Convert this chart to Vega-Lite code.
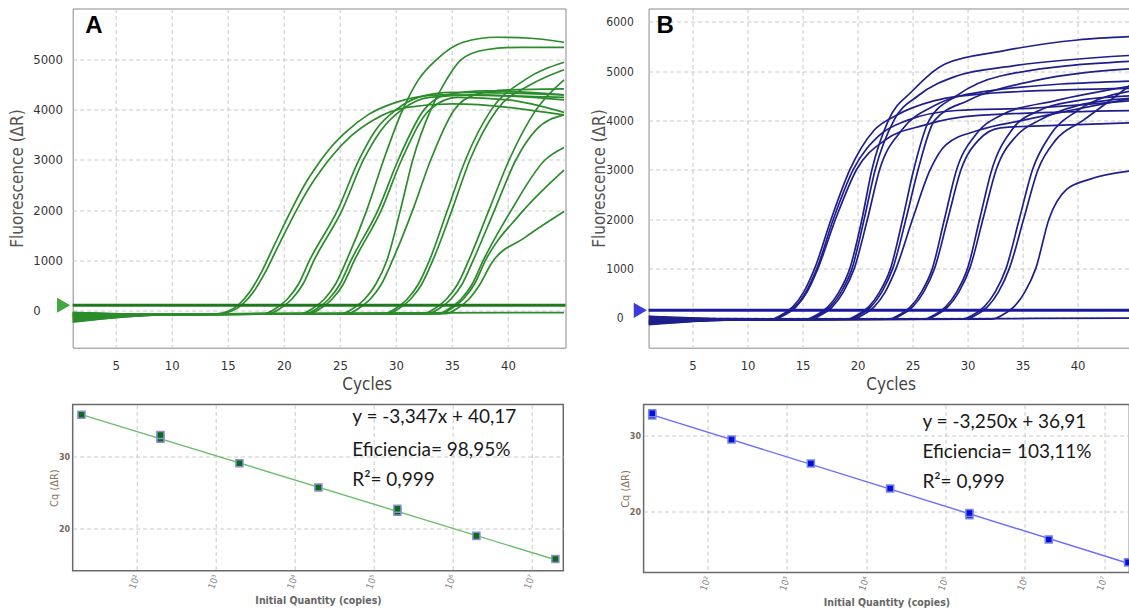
{
"$schema":"https://vega.github.io/schema/vega-lite/v6.json",
"background":"white",
"padding":{"left":7.7,"top":7.5,"right":0,"bottom":0},
"bounds":"full",
"spacing":10,
"config":{"view":{"stroke":"#7a7a7a","strokeWidth":1},"axis":{"ticks":false,"domain":false,"grid":true,"gridDash":[4,3],"gridColor":"#c9c9c9","gridWidth":1}},
"datasets":{
"ampA":[
{"s":"a1","x":1,"y":-160},{"s":"a1","x":9,"y":-85},{"s":"a1","x":14,"y":-70},{"s":"a1","x":15,"y":-20},{"s":"a1","x":16,"y":120},{"s":"a1","x":17,"y":380},{"s":"a1","x":18,"y":760},{"s":"a1","x":19,"y":1230},{"s":"a1","x":20,"y":1700},{"s":"a1","x":21,"y":2150},{"s":"a1","x":22,"y":2560},{"s":"a1","x":23,"y":2900},{"s":"a1","x":24,"y":3200},{"s":"a1","x":25.5,"y":3550},{"s":"a1","x":27.5,"y":3900},{"s":"a1","x":30,"y":4150},{"s":"a1","x":34,"y":4300},{"s":"a1","x":45,"y":4250},
{"s":"a2","x":1,"y":-220},{"s":"a2","x":9,"y":-90},{"s":"a2","x":14.3,"y":-70},{"s":"a2","x":15.3,"y":-20},{"s":"a2","x":16.3,"y":120},{"s":"a2","x":17.3,"y":370},{"s":"a2","x":18.3,"y":740},{"s":"a2","x":19.3,"y":1190},{"s":"a2","x":20.3,"y":1640},{"s":"a2","x":21.3,"y":2070},{"s":"a2","x":22.3,"y":2460},{"s":"a2","x":23.3,"y":2790},{"s":"a2","x":24.3,"y":3080},{"s":"a2","x":26,"y":3480},{"s":"a2","x":28,"y":3800},{"s":"a2","x":31,"y":4050},{"s":"a2","x":35,"y":4120},{"s":"a2","x":45,"y":3900},
{"s":"a3","x":1,"y":-120},{"s":"a3","x":9,"y":-85},{"s":"a3","x":18.3,"y":-65},{"s":"a3","x":19.3,"y":40},{"s":"a3","x":20.3,"y":220},{"s":"a3","x":21.3,"y":520},{"s":"a3","x":22.3,"y":1000},{"s":"a3","x":24.8,"y":2000},{"s":"a3","x":26.7,"y":3000},{"s":"a3","x":28.2,"y":3600},{"s":"a3","x":30,"y":4000},{"s":"a3","x":32,"y":4250},{"s":"a3","x":35,"y":4350},{"s":"a3","x":45,"y":4300},
{"s":"a4","x":1,"y":-60},{"s":"a4","x":9,"y":-80},{"s":"a4","x":18.7,"y":-65},{"s":"a4","x":19.7,"y":40},{"s":"a4","x":20.7,"y":220},{"s":"a4","x":21.7,"y":520},{"s":"a4","x":22.7,"y":1000},{"s":"a4","x":25.2,"y":2000},{"s":"a4","x":27.1,"y":3000},{"s":"a4","x":28.7,"y":3600},{"s":"a4","x":30.5,"y":4000},{"s":"a4","x":33,"y":4250},{"s":"a4","x":37,"y":4300},{"s":"a4","x":45,"y":4200},
{"s":"a5","x":1,"y":-200},{"s":"a5","x":9,"y":-90},{"s":"a5","x":21.6,"y":-65},{"s":"a5","x":22.6,"y":40},{"s":"a5","x":23.6,"y":220},{"s":"a5","x":24.6,"y":520},{"s":"a5","x":25.6,"y":1000},{"s":"a5","x":27.4,"y":2000},{"s":"a5","x":28.9,"y":3000},{"s":"a5","x":30.6,"y":4000},{"s":"a5","x":32,"y":4600},{"s":"a5","x":33.6,"y":5000},{"s":"a5","x":36,"y":5350},{"s":"a5","x":39,"y":5450},{"s":"a5","x":42,"y":5430},{"s":"a5","x":45,"y":5350},
{"s":"a6","x":1,"y":-100},{"s":"a6","x":9,"y":-85},{"s":"a6","x":22,"y":-65},{"s":"a6","x":23,"y":40},{"s":"a6","x":24,"y":220},{"s":"a6","x":25,"y":520},{"s":"a6","x":26,"y":1000},{"s":"a6","x":28.4,"y":2000},{"s":"a6","x":30.2,"y":3000},{"s":"a6","x":32.5,"y":4000},{"s":"a6","x":34.5,"y":4300},{"s":"a6","x":38,"y":4380},{"s":"a6","x":45,"y":4300},
{"s":"a7","x":1,"y":-40},{"s":"a7","x":9,"y":-80},{"s":"a7","x":22.3,"y":-65},{"s":"a7","x":23.3,"y":40},{"s":"a7","x":24.3,"y":220},{"s":"a7","x":25.3,"y":520},{"s":"a7","x":26.3,"y":1000},{"s":"a7","x":28.7,"y":2000},{"s":"a7","x":30.5,"y":3000},{"s":"a7","x":33,"y":4000},{"s":"a7","x":35.5,"y":4250},{"s":"a7","x":40,"y":4200},{"s":"a7","x":45,"y":3950},
{"s":"a8","x":1,"y":-180},{"s":"a8","x":9,"y":-85},{"s":"a8","x":25.2,"y":-65},{"s":"a8","x":26.2,"y":40},{"s":"a8","x":27.2,"y":220},{"s":"a8","x":28.2,"y":520},{"s":"a8","x":29.2,"y":1000},{"s":"a8","x":30.4,"y":2000},{"s":"a8","x":31.5,"y":3000},{"s":"a8","x":33.1,"y":4000},{"s":"a8","x":34.5,"y":4600},{"s":"a8","x":35.8,"y":5000},{"s":"a8","x":38,"y":5200},{"s":"a8","x":41,"y":5250},{"s":"a8","x":45,"y":5250},
{"s":"a9","x":1,"y":-140},{"s":"a9","x":9,"y":-85},{"s":"a9","x":25.7,"y":-65},{"s":"a9","x":26.7,"y":40},{"s":"a9","x":27.7,"y":220},{"s":"a9","x":28.7,"y":520},{"s":"a9","x":29.7,"y":1000},{"s":"a9","x":31.5,"y":2000},{"s":"a9","x":33.1,"y":3000},{"s":"a9","x":35.2,"y":4000},{"s":"a9","x":37,"y":4300},{"s":"a9","x":40,"y":4400},{"s":"a9","x":45,"y":4420},
{"s":"a10","x":1,"y":-90},{"s":"a10","x":9,"y":-85},{"s":"a10","x":29,"y":-65},{"s":"a10","x":30,"y":40},{"s":"a10","x":31,"y":220},{"s":"a10","x":32,"y":520},{"s":"a10","x":33,"y":1000},{"s":"a10","x":34.6,"y":2000},{"s":"a10","x":36.2,"y":3000},{"s":"a10","x":38.5,"y":4000},{"s":"a10","x":41.5,"y":4600},{"s":"a10","x":45,"y":4950},
{"s":"a11","x":1,"y":-240},{"s":"a11","x":9,"y":-90},{"s":"a11","x":29.3,"y":-65},{"s":"a11","x":30.3,"y":40},{"s":"a11","x":31.3,"y":220},{"s":"a11","x":32.3,"y":520},{"s":"a11","x":33.3,"y":1000},{"s":"a11","x":35,"y":2000},{"s":"a11","x":36.6,"y":3000},{"s":"a11","x":39,"y":4000},{"s":"a11","x":42,"y":4500},{"s":"a11","x":45,"y":4800},
{"s":"a12","x":1,"y":-70},{"s":"a12","x":9,"y":-80},{"s":"a12","x":32.5,"y":-65},{"s":"a12","x":33.5,"y":40},{"s":"a12","x":34.5,"y":220},{"s":"a12","x":35.5,"y":520},{"s":"a12","x":36.5,"y":1000},{"s":"a12","x":38.3,"y":2000},{"s":"a12","x":40.1,"y":3000},{"s":"a12","x":42.5,"y":4000},{"s":"a12","x":45,"y":4600},
{"s":"a13","x":1,"y":-130},{"s":"a13","x":9,"y":-85},{"s":"a13","x":32.9,"y":-65},{"s":"a13","x":33.9,"y":40},{"s":"a13","x":34.9,"y":220},{"s":"a13","x":35.9,"y":520},{"s":"a13","x":36.9,"y":1000},{"s":"a13","x":38.8,"y":2000},{"s":"a13","x":40.7,"y":3000},{"s":"a13","x":42.5,"y":3600},{"s":"a13","x":45,"y":3900},
{"s":"a14","x":1,"y":-170},{"s":"a14","x":9,"y":-85},{"s":"a14","x":33.8,"y":-65},{"s":"a14","x":34.8,"y":40},{"s":"a14","x":35.8,"y":220},{"s":"a14","x":36.8,"y":520},{"s":"a14","x":37.8,"y":1000},{"s":"a14","x":40.3,"y":2000},{"s":"a14","x":43.3,"y":3000},{"s":"a14","x":45,"y":3250},
{"s":"a15","x":1,"y":-110},{"s":"a15","x":9,"y":-85},{"s":"a15","x":34,"y":-65},{"s":"a15","x":35,"y":40},{"s":"a15","x":36,"y":220},{"s":"a15","x":37,"y":520},{"s":"a15","x":38,"y":1000},{"s":"a15","x":41,"y":1900},{"s":"a15","x":45,"y":2800},
{"s":"a16","x":1,"y":-50},{"s":"a16","x":9,"y":-80},{"s":"a16","x":34.5,"y":-65},{"s":"a16","x":35.5,"y":40},{"s":"a16","x":36.5,"y":220},{"s":"a16","x":37.5,"y":520},{"s":"a16","x":38.5,"y":930},{"s":"a16","x":41.5,"y":1450},{"s":"a16","x":45,"y":1970},
{"s":"a17","x":1,"y":-90},{"s":"a17","x":20,"y":-60},{"s":"a17","x":45,"y":-45}
],
"ampB":[
{"s":"b1","x":1,"y":-120},{"s":"b1","x":8,"y":-40},{"s":"b1","x":12.1,"y":-30},{"s":"b1","x":13.1,"y":60},{"s":"b1","x":14.1,"y":220},{"s":"b1","x":15.1,"y":520},{"s":"b1","x":16.1,"y":1000},{"s":"b1","x":17.6,"y":2000},{"s":"b1","x":19.3,"y":3000},{"s":"b1","x":21.5,"y":3800},{"s":"b1","x":23.5,"y":4100},{"s":"b1","x":27,"y":4400},{"s":"b1","x":32,"y":4550},{"s":"b1","x":45,"y":4650},
{"s":"b2","x":1,"y":-20},{"s":"b2","x":8,"y":-30},{"s":"b2","x":12.3,"y":-30},{"s":"b2","x":13.3,"y":60},{"s":"b2","x":14.3,"y":220},{"s":"b2","x":15.3,"y":520},{"s":"b2","x":16.3,"y":1000},{"s":"b2","x":17.8,"y":2000},{"s":"b2","x":19.6,"y":3000},{"s":"b2","x":22,"y":3700},{"s":"b2","x":24.5,"y":4000},{"s":"b2","x":29,"y":4200},{"s":"b2","x":36,"y":4250},{"s":"b2","x":45,"y":4400},
{"s":"b3","x":1,"y":-80},{"s":"b3","x":8,"y":-40},{"s":"b3","x":12.4,"y":-30},{"s":"b3","x":13.4,"y":60},{"s":"b3","x":14.4,"y":220},{"s":"b3","x":15.4,"y":520},{"s":"b3","x":16.4,"y":1000},{"s":"b3","x":18,"y":2000},{"s":"b3","x":19.9,"y":3000},{"s":"b3","x":22.5,"y":3600},{"s":"b3","x":26,"y":3900},{"s":"b3","x":31,"y":4100},{"s":"b3","x":45,"y":4200},
{"s":"b4","x":1,"y":30},{"s":"b4","x":8,"y":-20},{"s":"b4","x":15.3,"y":-30},{"s":"b4","x":16.3,"y":60},{"s":"b4","x":17.3,"y":220},{"s":"b4","x":18.3,"y":520},{"s":"b4","x":19.3,"y":1000},{"s":"b4","x":20.4,"y":2000},{"s":"b4","x":21.3,"y":3000},{"s":"b4","x":22.8,"y":4000},{"s":"b4","x":25,"y":4600},{"s":"b4","x":28,"y":5150},{"s":"b4","x":33,"y":5400},{"s":"b4","x":40,"y":5630},{"s":"b4","x":45,"y":5700},
{"s":"b5","x":1,"y":-100},{"s":"b5","x":8,"y":-45},{"s":"b5","x":15.5,"y":-30},{"s":"b5","x":16.5,"y":60},{"s":"b5","x":17.5,"y":220},{"s":"b5","x":18.5,"y":520},{"s":"b5","x":19.5,"y":1000},{"s":"b5","x":20.6,"y":2000},{"s":"b5","x":21.6,"y":3000},{"s":"b5","x":23.3,"y":4000},{"s":"b5","x":25.5,"y":4500},{"s":"b5","x":29,"y":4900},{"s":"b5","x":34,"y":5100},{"s":"b5","x":45,"y":5320},
{"s":"b6","x":1,"y":-50},{"s":"b6","x":8,"y":-35},{"s":"b6","x":15.7,"y":-30},{"s":"b6","x":16.7,"y":60},{"s":"b6","x":17.7,"y":220},{"s":"b6","x":18.7,"y":520},{"s":"b6","x":19.7,"y":1000},{"s":"b6","x":20.9,"y":2000},{"s":"b6","x":22,"y":3000},{"s":"b6","x":24,"y":3800},{"s":"b6","x":27,"y":4300},{"s":"b6","x":32,"y":4600},{"s":"b6","x":45,"y":4800},
{"s":"b7","x":1,"y":-140},{"s":"b7","x":8,"y":-50},{"s":"b7","x":19,"y":-30},{"s":"b7","x":20,"y":60},{"s":"b7","x":21,"y":220},{"s":"b7","x":22,"y":520},{"s":"b7","x":23,"y":1000},{"s":"b7","x":24.1,"y":2000},{"s":"b7","x":25.1,"y":3000},{"s":"b7","x":26.5,"y":4000},{"s":"b7","x":29,"y":4500},{"s":"b7","x":33,"y":4900},{"s":"b7","x":45,"y":5200},
{"s":"b8","x":1,"y":-10},{"s":"b8","x":8,"y":-30},{"s":"b8","x":19.2,"y":-30},{"s":"b8","x":20.2,"y":60},{"s":"b8","x":21.2,"y":220},{"s":"b8","x":22.2,"y":520},{"s":"b8","x":23.2,"y":1000},{"s":"b8","x":24.4,"y":2000},{"s":"b8","x":25.5,"y":3000},{"s":"b8","x":27,"y":4000},{"s":"b8","x":30,"y":4400},{"s":"b8","x":36,"y":4800},{"s":"b8","x":45,"y":5050},
{"s":"b9","x":1,"y":-90},{"s":"b9","x":8,"y":-40},{"s":"b9","x":19.5,"y":-30},{"s":"b9","x":20.5,"y":60},{"s":"b9","x":21.5,"y":220},{"s":"b9","x":22.5,"y":520},{"s":"b9","x":23.5,"y":1000},{"s":"b9","x":25,"y":2000},{"s":"b9","x":26.6,"y":3000},{"s":"b9","x":28,"y":3500},{"s":"b9","x":31,"y":3800},{"s":"b9","x":35,"y":4000},{"s":"b9","x":45,"y":4450},
{"s":"b10","x":1,"y":10},{"s":"b10","x":8,"y":-25},{"s":"b10","x":22.8,"y":-30},{"s":"b10","x":23.8,"y":60},{"s":"b10","x":24.8,"y":220},{"s":"b10","x":25.8,"y":520},{"s":"b10","x":26.8,"y":1000},{"s":"b10","x":27.9,"y":2000},{"s":"b10","x":29,"y":3000},{"s":"b10","x":30.7,"y":3700},{"s":"b10","x":33,"y":4100},{"s":"b10","x":38,"y":4400},{"s":"b10","x":45,"y":4700},
{"s":"b11","x":1,"y":-110},{"s":"b11","x":8,"y":-45},{"s":"b11","x":23,"y":-30},{"s":"b11","x":24,"y":60},{"s":"b11","x":25,"y":220},{"s":"b11","x":26,"y":520},{"s":"b11","x":27,"y":1000},{"s":"b11","x":28.2,"y":2000},{"s":"b11","x":29.4,"y":3000},{"s":"b11","x":31,"y":3600},{"s":"b11","x":33,"y":3850},{"s":"b11","x":38,"y":3900},{"s":"b11","x":45,"y":3950},
{"s":"b12","x":1,"y":-60},{"s":"b12","x":8,"y":-35},{"s":"b12","x":26,"y":-30},{"s":"b12","x":27,"y":60},{"s":"b12","x":28,"y":220},{"s":"b12","x":29,"y":520},{"s":"b12","x":30,"y":1000},{"s":"b12","x":31.1,"y":2000},{"s":"b12","x":32.2,"y":3000},{"s":"b12","x":34,"y":3800},{"s":"b12","x":36.5,"y":4200},{"s":"b12","x":40,"y":4400},{"s":"b12","x":45,"y":4500},
{"s":"b13","x":1,"y":-130},{"s":"b13","x":8,"y":-50},{"s":"b13","x":26.2,"y":-30},{"s":"b13","x":27.2,"y":60},{"s":"b13","x":28.2,"y":220},{"s":"b13","x":29.2,"y":520},{"s":"b13","x":30.2,"y":1000},{"s":"b13","x":31.4,"y":2000},{"s":"b13","x":32.6,"y":3000},{"s":"b13","x":34.5,"y":3700},{"s":"b13","x":36.5,"y":4000},{"s":"b13","x":40,"y":4300},{"s":"b13","x":45,"y":4450},
{"s":"b14","x":1,"y":-40},{"s":"b14","x":8,"y":-35},{"s":"b14","x":29.5,"y":-30},{"s":"b14","x":30.5,"y":60},{"s":"b14","x":31.5,"y":220},{"s":"b14","x":32.5,"y":520},{"s":"b14","x":33.5,"y":1000},{"s":"b14","x":34.7,"y":2000},{"s":"b14","x":35.9,"y":3000},{"s":"b14","x":37.5,"y":3700},{"s":"b14","x":40,"y":4200},{"s":"b14","x":45,"y":4600},
{"s":"b15","x":1,"y":20},{"s":"b15","x":8,"y":-25},{"s":"b15","x":29.8,"y":-30},{"s":"b15","x":30.8,"y":60},{"s":"b15","x":31.8,"y":220},{"s":"b15","x":32.8,"y":520},{"s":"b15","x":33.8,"y":1000},{"s":"b15","x":35.1,"y":2000},{"s":"b15","x":36.4,"y":3000},{"s":"b15","x":38,"y":3600},{"s":"b15","x":40.5,"y":4000},{"s":"b15","x":45,"y":4750},
{"s":"b16","x":1,"y":-90},{"s":"b16","x":8,"y":-40},{"s":"b16","x":32.2,"y":-30},{"s":"b16","x":33.2,"y":60},{"s":"b16","x":34.2,"y":220},{"s":"b16","x":35.2,"y":520},{"s":"b16","x":36.2,"y":1000},{"s":"b16","x":37.4,"y":2000},{"s":"b16","x":39,"y":2600},{"s":"b16","x":41,"y":2800},{"s":"b16","x":45,"y":2980},
{"s":"b17","x":1,"y":-60},{"s":"b17","x":20,"y":-30},{"s":"b17","x":45,"y":-10}
],
"stdA":[{"q":20,"c":35.8},{"q":200,"c":32.5},{"q":200,"c":33.0},{"q":2000,"c":29.1},{"q":20000,"c":25.75},{"q":200000,"c":22.4},{"q":200000,"c":22.8},{"q":2000000,"c":19.05},{"q":20000000,"c":15.85}],
"stdB":[{"q":20,"c":32.6},{"q":20,"c":32.9},{"q":200,"c":29.45},{"q":2000,"c":26.3},{"q":20000,"c":23.0},{"q":200000,"c":19.5},{"q":200000,"c":19.8},{"q":2000000,"c":16.3},{"q":20000000,"c":13.3}]
},
"vconcat":[
{"hconcat":[
{"width":492.8,"height":339.2,"view":{"stroke":"#8a8a8a","strokeWidth":1},
"layer":[
{"data":{"name":"ampA"},"mark":{"type":"line","interpolate":"monotone","color":"#2b8c2b","strokeWidth":1.7,"clip":true},
"encoding":{
"x":{"field":"x","type":"quantitative","scale":{"domain":[1.16,45.13],"nice":false,"zero":false},"axis":{"title":"Cycles","values":[5,10,15,20,25,30,35,40],"labelFont":"DejaVu Sans Condensed","labelFontSize":13,"labelColor":"#333","labelPadding":12,"titleFont":"DejaVu Sans Condensed","titleFontSize":17,"titleFontWeight":"normal","titleColor":"#444","titlePadding":4,"titleX":294}},
"y":{"field":"y","type":"quantitative","scale":{"domain":[-747,6024],"nice":false,"zero":false},"axis":{"title":"Fluorescence (ΔR)","values":[0,1000,2000,3000,4000,5000],"format":"d","labelFont":"DejaVu Sans Condensed","labelFontSize":13,"labelColor":"#333","labelAlign":"left","labelPadding":40,"titleFont":"DejaVu Sans Condensed","titleFontSize":17,"titleFontWeight":"normal","titleColor":"#555","titlePadding":6}},
"detail":{"field":"s"}}},
{"data":{"values":[{"y":100}]},"mark":{"type":"rule","color":"#1f7a1f","strokeWidth":3},"encoding":{"y":{"field":"y","type":"quantitative"}}},
{"data":{"values":[{"x":0.35,"y":100}]},"mark":{"type":"point","shape":"triangle-right","filled":true,"size":230,"color":"#3fa83f","opacity":1},"encoding":{"x":{"field":"x","type":"quantitative"},"y":{"field":"y","type":"quantitative"}}},
{"data":{"values":[{"x":3.06,"y":5675,"t":"A"}]},"mark":{"type":"text","font":"Liberation Sans","fontSize":24,"fontWeight":"bold","color":"#000","baseline":"middle","align":"center"},"encoding":{"x":{"field":"x","type":"quantitative"},"y":{"field":"y","type":"quantitative"},"text":{"field":"t"}}}
]},
{"width":480.6,"height":339.2,"view":{"stroke":"#8a8a8a","strokeWidth":1},
"layer":[
{"data":{"name":"ampB"},"mark":{"type":"line","interpolate":"monotone","color":"#1f1f8c","strokeWidth":1.7,"clip":true},
"encoding":{
"x":{"field":"x","type":"quantitative","scale":{"domain":[1,44.69],"nice":false,"zero":false},"axis":{"title":"Cycles","values":[5,10,15,20,25,30,35,40],"labelFont":"DejaVu Sans Condensed","labelFontSize":13,"labelColor":"#333","labelPadding":12,"titleFont":"DejaVu Sans Condensed","titleFontSize":17,"titleFontWeight":"normal","titleColor":"#444","titlePadding":4,"titleX":242}},
"y":{"field":"y","type":"quantitative","scale":{"domain":[-608,6268],"nice":false,"zero":false},"axis":{"title":"Fluorescence (ΔR)","values":[0,1000,2000,3000,4000,5000,6000],"format":"d","labelFont":"DejaVu Sans Condensed","labelFontSize":12,"labelColor":"#333","labelAlign":"center","labelPadding":29,"titleFont":"DejaVu Sans Condensed","titleFontSize":17,"titleFontWeight":"normal","titleColor":"#555","titlePadding":-3}},
"detail":{"field":"s"}}},
{"data":{"values":[{"y":150}]},"mark":{"type":"rule","color":"#1a1aa0","strokeWidth":3},"encoding":{"y":{"field":"y","type":"quantitative"}}},
{"data":{"values":[{"x":0.25,"y":150}]},"mark":{"type":"point","shape":"triangle-right","filled":true,"size":230,"color":"#3b3bd6","opacity":1},"encoding":{"x":{"field":"x","type":"quantitative"},"y":{"field":"y","type":"quantitative"}}},
{"data":{"values":[{"x":2.5,"y":5913,"t":"B"}]},"mark":{"type":"text","font":"Liberation Sans","fontSize":24,"fontWeight":"bold","color":"#000","baseline":"middle","align":"center"},"encoding":{"x":{"field":"x","type":"quantitative"},"y":{"field":"y","type":"quantitative"},"text":{"field":"t"}}}
]}
],"spacing":82.9,"bounds":"flush"},
{"hconcat":[
{"width":490.6,"height":166.2,"view":{"stroke":"#6a6a6a","strokeWidth":1.5},
"layer":[
{"data":{"values":[{"q":20,"c":35.82},{"q":20000000,"c":15.74}]},"mark":{"type":"line","color":"#6cbf6c","strokeWidth":1.4,"clip":true},
"encoding":{
"x":{"field":"q","type":"quantitative","scale":{"type":"log","domain":[15.49,25180000],"nice":false},"axis":{"title":"Initial Quantity (copies)","values":[100,1000,10000,100000,1000000,10000000],"labelExpr":"'10' + ['⁰','¹','²','³','⁴','⁵','⁶','⁷'][round(log(datum.value)/LN10)]","labelAngle":-70,"labelFont":"DejaVu Sans Condensed","labelFontSize":9.5,"labelColor":"#888","labelPadding":4,"titleFont":"DejaVu Sans Condensed","titleFontSize":10.5,"titleFontWeight":"bold","titleColor":"#666","titlePadding":6}},
"y":{"field":"c","type":"quantitative","scale":{"domain":[14.23,37.22],"nice":false,"zero":false},"axis":{"title":"Cq (ΔR)","values":[20,30],"labelFont":"DejaVu Sans Condensed","labelFontSize":9,"labelFontWeight":"bold","labelColor":"#7a6a5e","labelPadding":3,"titleFont":"DejaVu Sans Condensed","titleFontSize":11,"titleFontWeight":"normal","titleColor":"#8b715f","titlePadding":-1}}}},
{"data":{"name":"stdA"},"mark":{"type":"point","shape":"square","filled":true,"size":50,"color":"#0b6b17","stroke":"#8f8fd6","strokeWidth":1.5,"opacity":1},"encoding":{"x":{"field":"q","type":"quantitative"},"y":{"field":"c","type":"quantitative"}}},
{"data":{"values":[{"q":53600,"c":35.53,"t":"y = -3,347x + 40,17"},{"q":53600,"c":30.93,"t":"Eficiencia= 98,95%"},{"q":53600,"c":26.78,"t":"R²= 0,999"}]},"mark":{"type":"text","font":"Lato","fontSize":19,"color":"#1a1a1a","align":"left","baseline":"middle"},"encoding":{"x":{"field":"q","type":"quantitative"},"y":{"field":"c","type":"quantitative"},"text":{"field":"t"}}}
]},
{"width":485.8,"height":168,"view":{"stroke":"#6a6a6a","strokeWidth":1.5},
"layer":[
{"data":{"values":[{"q":20,"c":32.68},{"q":20000000,"c":13.19}]},"mark":{"type":"line","color":"#6b6bff","strokeWidth":1.4,"clip":true},
"encoding":{
"x":{"field":"q","type":"quantitative","scale":{"type":"log","domain":[15.56,20800000],"nice":false},"axis":{"title":"Initial Quantity (copies)","values":[100,1000,10000,100000,1000000,10000000],"labelExpr":"'10' + ['⁰','¹','²','³','⁴','⁵','⁶','⁷'][round(log(datum.value)/LN10)]","labelAngle":-70,"labelFont":"DejaVu Sans Condensed","labelFontSize":9.5,"labelColor":"#888","labelPadding":4,"titleFont":"DejaVu Sans Condensed","titleFontSize":10.5,"titleFontWeight":"bold","titleColor":"#666","titlePadding":6}},
"y":{"field":"c","type":"quantitative","scale":{"domain":[11.97,34.05],"nice":false,"zero":false},"axis":{"title":"Cq (ΔR)","values":[20,30],"labelFont":"DejaVu Sans Condensed","labelFontSize":9,"labelFontWeight":"bold","labelColor":"#7a6a5e","labelPadding":3,"titleFont":"DejaVu Sans Condensed","titleFontSize":11,"titleFontWeight":"normal","titleColor":"#8b715f","titlePadding":-1}}}},
{"data":{"name":"stdB"},"mark":{"type":"point","shape":"square","filled":true,"size":50,"color":"#0010d8","stroke":"#7c86e8","strokeWidth":1.5,"opacity":1,"clip":true},"encoding":{"x":{"field":"q","type":"quantitative"},"y":{"field":"c","type":"quantitative"}}},
{"data":{"values":[{"q":51000,"c":31.75,"t":"y = -3,250x + 36,91"},{"q":51000,"c":27.76,"t":"Eficiencia= 103,11%"},{"q":51000,"c":23.87,"t":"R²= 0,999"}]},"mark":{"type":"text","font":"Lato","fontSize":19,"color":"#1a1a1a","align":"left","baseline":"middle"},"encoding":{"x":{"field":"q","type":"quantitative"},"y":{"field":"c","type":"quantitative"},"text":{"field":"t"}}}
]}
],"spacing":79.9,"bounds":"flush"}
]
}
